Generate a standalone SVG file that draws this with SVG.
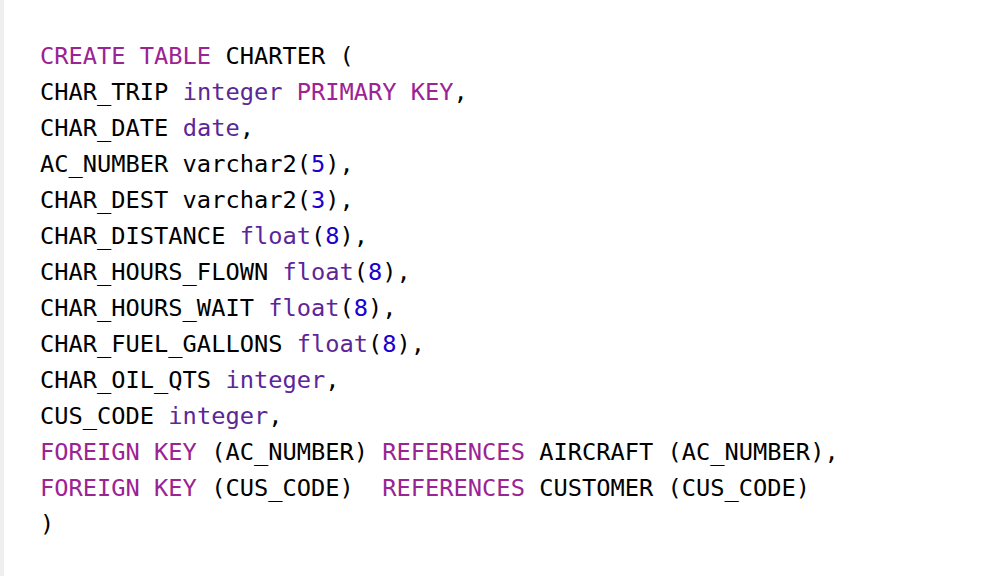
<svg xmlns="http://www.w3.org/2000/svg" width="982" height="576" viewBox="0 0 982 576">
<style>
text{font-family:"DejaVu Sans Mono","Liberation Mono",monospace;font-size:23.7px;fill:#000;white-space:pre}
.k{fill:#9b2393}.t{fill:#5c2699}.n{fill:#1c00cf}
</style>
<rect width="982" height="576" fill="#fff"/>
<rect x="0" y="0" width="4" height="576" fill="#eeeeee"/>
<g id="code" xml:space="preserve">
<text x="40" y="64"><tspan class="k">CREATE TABLE</tspan> CHARTER (</text>
<text x="40" y="100">CHAR_TRIP <tspan class="t">integer</tspan> <tspan class="k">PRIMARY KEY</tspan>,</text>
<text x="40" y="136">CHAR_DATE <tspan class="t">date</tspan>,</text>
<text x="40" y="172">AC_NUMBER varchar2(<tspan class="n">5</tspan>),</text>
<text x="40" y="208">CHAR_DEST varchar2(<tspan class="n">3</tspan>),</text>
<text x="40" y="244">CHAR_DISTANCE <tspan class="t">float</tspan>(<tspan class="n">8</tspan>),</text>
<text x="40" y="280">CHAR_HOURS_FLOWN <tspan class="t">float</tspan>(<tspan class="n">8</tspan>),</text>
<text x="40" y="316">CHAR_HOURS_WAIT <tspan class="t">float</tspan>(<tspan class="n">8</tspan>),</text>
<text x="40" y="352">CHAR_FUEL_GALLONS <tspan class="t">float</tspan>(<tspan class="n">8</tspan>),</text>
<text x="40" y="388">CHAR_OIL_QTS <tspan class="t">integer</tspan>,</text>
<text x="40" y="424">CUS_CODE <tspan class="t">integer</tspan>,</text>
<text x="40" y="460"><tspan class="k">FOREIGN KEY</tspan> (AC_NUMBER) <tspan class="k">REFERENCES</tspan> AIRCRAFT (AC_NUMBER),</text>
<text x="40" y="496"><tspan class="k">FOREIGN KEY</tspan> (CUS_CODE)  <tspan class="k">REFERENCES</tspan> CUSTOMER (CUS_CODE)</text>
<text x="40" y="532">)</text>
</g>
</svg>
